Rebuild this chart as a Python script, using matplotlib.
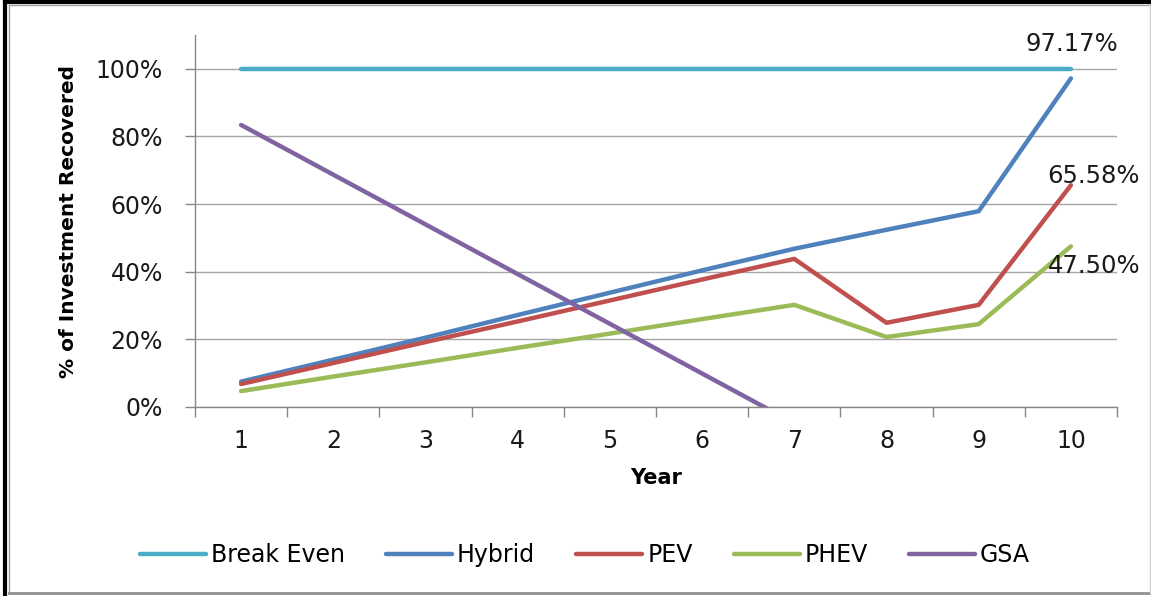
import matplotlib
matplotlib.use("Agg")
import matplotlib.pyplot as plt
from matplotlib.lines import Line2D
from matplotlib.ticker import FuncFormatter, FixedLocator

years = [1, 2, 3, 4, 5, 6, 7, 8, 9, 10]
break_even = [1.0, 1.0, 1.0, 1.0, 1.0, 1.0, 1.0, 1.0, 1.0, 1.0]
hybrid = [0.075, 0.140, 0.205, 0.272, 0.338, 0.404, 0.468, 0.524, 0.579, 0.9717]
pev = [0.068, 0.130, 0.192, 0.253, 0.315, 0.377, 0.438, 0.249, 0.302, 0.6558]
phev = [0.047, 0.090, 0.132, 0.175, 0.217, 0.260, 0.302, 0.207, 0.245, 0.4750]
gsa_years = [1, 2, 3, 4, 5, 6, 7]
gsa = [0.834, 0.687, 0.540, 0.393, 0.246, 0.099, -0.048]

series = [
    ("Break Even", years, break_even, "#4BACC6"),
    ("Hybrid", years, hybrid, "#4F81BD"),
    ("PEV", years, pev, "#C0504D"),
    ("PHEV", years, phev, "#9BBB59"),
    ("GSA", gsa_years, gsa, "#8064A2"),
]

W, H = 1151, 596
fig = plt.figure(figsize=(W / 100, H / 100), dpi=100)
ax = fig.add_axes([195 / W, 1 - 407 / H, (1117 - 195) / W, (407 - 35) / H])

for name, xs, ys, col in series:
    ax.plot(xs, ys, color=col, lw=3.2, label=name, solid_capstyle="round", clip_on=True)

ax.set_xlim(0.5, 10.5)
ax.set_ylim(0, 1.1)
ax.yaxis.set_major_locator(FixedLocator([0, 0.2, 0.4, 0.6, 0.8, 1.0]))
ax.yaxis.set_major_formatter(FuncFormatter(lambda v, p: f"{v*100:.0f}%"))
ax.set_xticks(years)
ax.set_xticks([y + 0.5 for y in [0] + years], minor=True)
ax.tick_params(axis="x", which="major", length=0, pad=16, labelsize=17, colors="#1a1a1a")
ax.tick_params(axis="x", which="minor", length=7, width=1, color="#868686")
ax.tick_params(axis="y", which="major", length=7, width=1, color="#868686", pad=16,
               labelsize=17, labelcolor="#1a1a1a")
ax.grid(axis="y", color="#a6a6a6", lw=1)
ax.set_axisbelow(True)
for s in ["top", "right"]:
    ax.spines[s].set_visible(False)
for s in ["left", "bottom"]:
    ax.spines[s].set_color("#868686")
    ax.spines[s].set_linewidth(1)

ax.set_xlabel("Year", fontsize=15, fontweight="bold", labelpad=11)
ax.set_ylabel("% of Investment Recovered", fontsize=14.5, fontweight="bold", labelpad=13)

labels = [(hybrid[-1], "97.17%", (1, 34)), (pev[-1], "65.58%", (23, 9)), (phev[-1], "47.50%", (23, -20))]
for v, txt, off in labels:
    ax.annotate(txt, xy=(10, v), xytext=off, textcoords="offset pixels",
                ha="center", va="center", fontsize=17.5, color="#1a1a1a", annotation_clip=False)

handles, labs = ax.get_legend_handles_labels()
fig.legend(handles, labs, loc="center", bbox_to_anchor=(585 / W, 1 - 555 / H), ncol=5,
           frameon=False, fontsize=17, handlelength=2.8, handletextpad=0.2, columnspacing=1.75)

# outer frame
fig.add_artist(Line2D([5 / W, 5 / W], [0, 1 - 2 / H], color="black", lw=3, transform=fig.transFigure))
fig.add_artist(Line2D([5 / W, 1], [1 - 2 / H, 1 - 2 / H], color="black", lw=3, transform=fig.transFigure))
fig.add_artist(Line2D([9 / W, 9 / W], [3 / H, 1 - 5 / H], color="#a0a0a0", lw=1, transform=fig.transFigure))
fig.add_artist(Line2D([9 / W, 1150 / W], [1 - 5 / H, 1 - 5 / H], color="#a0a0a0", lw=1, transform=fig.transFigure))
fig.add_artist(Line2D([9 / W, 1150 / W], [3 / H, 3 / H], color="#909090", lw=2, transform=fig.transFigure))
fig.add_artist(Line2D([1150 / W, 1150 / W], [3 / H, 1 - 5 / H], color="#d0d0d0", lw=1, transform=fig.transFigure))

fig.savefig("out.png", dpi=100)
